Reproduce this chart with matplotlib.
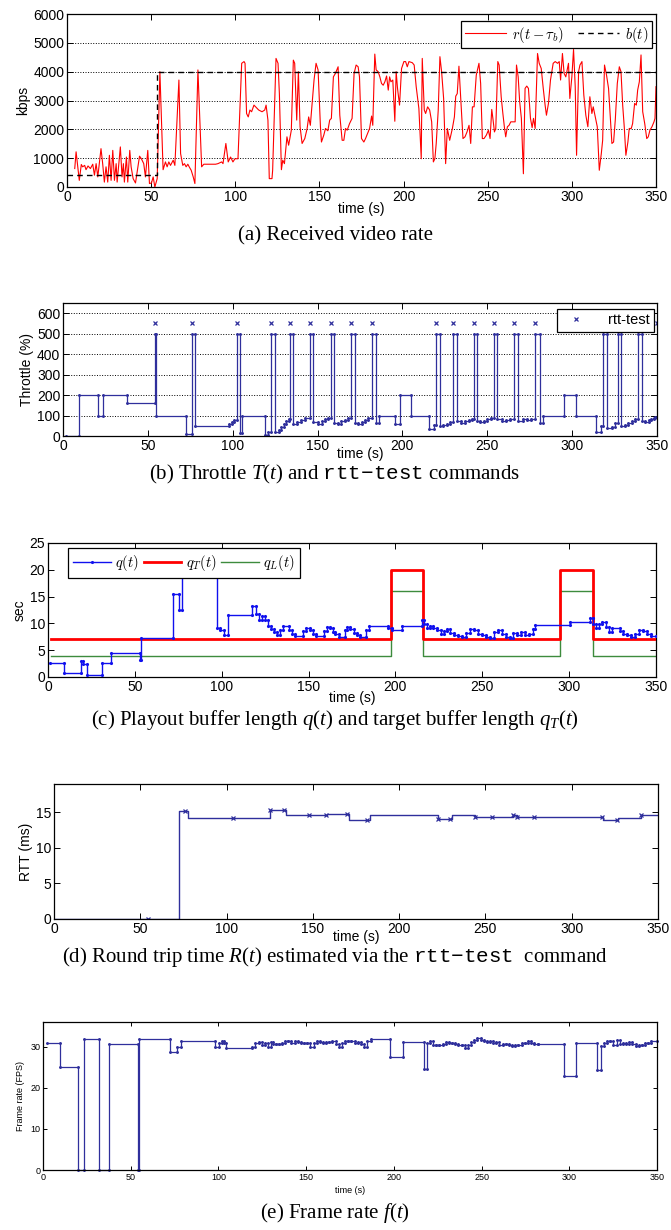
import numpy as np
import matplotlib
matplotlib.use('Agg')
import matplotlib.pyplot as plt
from matplotlib.font_manager import FontProperties

plt.rcParams['font.family'] = 'Liberation Sans'
plt.rcParams['mathtext.fontset'] = 'custom'
plt.rcParams['mathtext.rm'] = 'Liberation Serif'
plt.rcParams['mathtext.it'] = 'Liberation Serif:italic'
plt.rcParams['mathtext.tt'] = 'Liberation Mono'

T_END = 350

# (a) received video rate r(t - tau_b) in kbps
rate_t = [4.6, 5.4, 7.3, 8.5, 9.3, 10.5, 11.3, 12.5, 13.9, 15.3, 16.3, 17.3, 18.3, 20.2, 21.2, 22.2,
          23.2, 24.2, 25.2, 26.2, 27.2, 28.2, 29.2, 29.8, 31.7, 32.7, 33.5, 34.1, 35.3, 36.1, 37.3,
          38.1, 39.3, 40.7, 43.1, 44.2, 45.6, 46.6, 48.0, 49.0, 50.2, 51.2, 52.2, 53.6, 55.2, 57.1,
          58.5, 59.5, 60.5, 61.5, 63.1, 64.1, 66.5, 67.5, 68.8, 69.8, 70.8, 71.8, 72.6, 73.8, 75.0,
          76.0, 77.8, 80.0, 81.3, 84.3, 88.3, 89.7, 91.9, 92.7, 94.4, 95.8, 97.2, 98.6, 99.8, 101.6,
          103.8, 105.2, 105.8, 106.7, 107.7, 108.7, 109.7, 111.1, 113.9, 115.9, 117.5, 118.3, 119.4,
          120.2, 121.8, 122.2, 124.2, 125.4, 126.2, 127.4, 128.2, 129.2, 130.7, 131.7, 133.3, 134.5,
          135.3, 136.5, 137.5, 138.5, 139.7, 141.3, 142.7, 143.6, 144.6, 146.8, 148.0, 149.2, 150.6,
          151.2, 152.6, 153.6, 155.0, 156.1, 157.1, 158.3, 159.5, 161.1, 162.1, 163.5, 164.5, 165.5,
          166.5, 167.9, 169.4, 170.6, 171.8, 173.0, 173.8, 175.0, 176.4, 177.4, 178.6, 179.8, 181.0,
          181.7, 182.9, 183.7, 184.9, 185.9, 186.9, 187.9, 188.9, 189.9, 190.9, 191.7, 192.5, 193.6,
          194.8, 195.6, 196.4, 197.6, 198.8, 200.2, 201.2, 202.2, 203.2, 205.2, 206.3, 207.5, 209.1,
          210.5, 211.1, 212.3, 213.1, 214.3, 215.5, 216.7, 217.7, 218.6, 219.4, 220.6, 221.6, 222.6,
          223.8, 225.0, 226.0, 227.4, 229.0, 230.2, 231.0, 231.9, 232.9, 234.5, 235.3, 236.5, 237.7,
          238.9, 239.9, 240.9, 241.9, 243.2, 244.8, 245.8, 246.8, 247.8, 249.2, 250.4, 251.4, 252.4,
          253.2, 254.0, 254.8, 256.0, 256.8, 258.0, 259.0, 260.0, 260.7, 261.7, 262.7, 263.7, 265.1,
          266.3, 267.1, 268.1, 269.0, 270.0, 271.2, 272.2, 273.2, 274.2, 275.4, 276.4, 277.2, 278.2,
          279.6, 280.6, 281.8, 283.0, 284.1, 284.9, 286.1, 287.3, 288.9, 290.1, 291.5, 292.5, 293.3,
          294.4, 295.4, 296.4, 298.0, 298.8, 300.0, 301.0, 302.0, 302.8, 304.0, 304.8, 306.0, 307.1,
          308.3, 309.5, 310.7, 311.9, 312.7, 313.9, 315.1, 316.3, 317.5, 318.3, 319.4, 320.6, 321.8,
          322.6, 323.8, 324.8, 325.8, 327.0, 328.2, 329.2, 330.2, 331.2, 332.1, 333.3, 334.1, 335.3,
          336.1, 337.3, 338.3, 339.1, 340.1, 341.1, 342.1, 343.3, 344.5, 345.4, 346.4, 347.6, 348.8,
          349.4, 350.0]
rate_v = [640, 1220, 230, 780, 700, 750, 600, 730, 640, 790, 410, 810, 350, 1330, 810, 170,
          700, 170, 1100, 230, 1270, 230, 810, 170, 1390, 350, 810, 170, 1040, 170, 1270,
          700, 290, 140, 1070, 980, 810, 350, 1270, 120, 140, 350, 0, 290, 4000, 600,
          870, 700, 870, 750, 930, 750, 3710, 1160, 750, 810, 700, 790, 700, 580, 350,
          120, 4060, 700, 790, 790, 790, 810, 870, 810, 1510, 870, 1040, 870, 980, 980,
          4290, 4350, 4290, 2550, 2430, 2670, 2610, 2840, 2670, 2610, 2670, 2840, 2320,
          290, 290, 580, 4460, 4290, 3240, 600, 930, 810, 1740, 1450, 1970, 4400,
          4290, 2320, 4000, 2090, 1510, 1680, 2030, 2430, 2140, 3710, 4290, 4060, 2090,
          1560, 1800, 2030, 1950, 2320, 2380, 3820, 3940, 4170, 2490, 1620, 1620, 2030,
          1970, 2200, 2380, 3940, 4230, 4170, 3820, 1680, 1560, 1680, 1850, 2030, 2460,
          2140, 4610, 4060, 4000, 3820, 3590, 3530, 3650, 3850, 3360, 3820, 3650, 3710,
          2280, 4000, 3420, 2840, 4110, 4350, 4350, 4170, 4350, 4310, 4230, 3480, 2720,
          980, 4460, 2670, 2550, 2780, 2670, 2260, 870, 980, 1510, 2670, 4520, 4000,
          3070, 810, 2030, 1620, 2030, 2430, 3150, 3240, 4190, 2550, 1680, 1740, 1910,
          2140, 1510, 2780, 2780, 3880, 4290, 3590, 1680, 1680, 1800, 1970, 1680, 2690,
          2320, 1910, 2030, 4350, 4230, 3130, 2550, 2030, 1740, 2090, 2140, 2260, 2260,
          2260, 4230, 3820, 2950, 2380, 460, 3420, 3500, 3420, 2380, 2060, 2380, 2030,
          4630, 4290, 4110, 3420, 2840, 2490, 2900, 3710, 4290, 4350, 4290, 4350, 3710,
          4630, 3940, 3820, 4290, 3070, 3820, 4770, 3480, 1100, 4000, 4230, 4350, 3190,
          2490, 2090, 3130, 2550, 2780, 2430, 2090, 580, 1160, 1620, 4230, 3880, 3420,
          2670, 1510, 1560, 2320, 3590, 4170, 4000, 2840, 2030, 1100, 1560, 2030, 2030,
          2200, 2900, 2840, 3360, 3650, 4580, 2610, 2200, 1680, 1740, 1970, 2090, 2260,
          2380, 3480]

# b(t): encoding bitrate chosen by the client
bitrate_t = [0, 53.6]
bitrate_v = [400, 4000]

# (b) throttle command T(t) in percent
thr_t = [2, 9.5, 20.5, 23.5, 37.5, 54.5, 54.8, 72.5, 76.2, 78.0,
         97.8, 99.8, 101.0, 102.3, 104.5, 105.2,
         119.0, 121.0, 122.8, 125.0, 127.0, 128.5, 130.0, 131.5, 133.0,
         133.6, 135.6, 138.0, 140.0, 142.5,
         145.5, 147.5, 150.5, 152.5, 154.5, 156.0,
         157.7, 159.7, 162.0, 164.0, 166.0, 168.0,
         169.8, 171.8, 174.0, 176.0, 178.0, 180.0,
         181.8, 184.5, 186.0, 195.4, 198.7, 205.0, 215.8, 218.4,
         220.0, 222.0, 224.0, 226.0, 228.0,
         230.0, 232.0, 234.5, 237.0, 239.5, 241.0,
         242.0, 243.8, 246.0, 248.0, 250.0, 252.0,
         254.0, 256.0, 258.5, 261.0, 263.5,
         266.0, 268.3, 271.0, 273.5, 276.0,
         278.3, 281.0, 282.6, 295.2, 302.0, 314.2, 316.8,
         318.4, 320.5, 323.5, 325.5,
         326.8, 329.0, 331.0, 333.0, 335.0, 337.0,
         338.6, 341.2, 343.0, 345.0, 346.5, 348.0, 349.0]
thr_v = [0, 200, 100, 200, 160, 500, 100, 10, 500, 50,
         60, 70, 80, 500, 15, 100,
         5, 20, 500, 20, 30, 45, 60, 75, 85,
         500, 60, 70, 80, 90,
         500, 70, 60, 75, 85, 90,
         500, 65, 60, 75, 80, 90,
         500, 65, 60, 70, 80, 88,
         500, 65, 100, 60, 200, 100, 35, 55,
         500, 50, 55, 60, 70,
         500, 75, 65, 75, 80, 85,
         500, 75, 70, 75, 85, 90,
         500, 85, 75, 80, 85,
         500, 75, 85, 80, 85,
         500, 65, 100, 200, 100, 20, 50,
         500, 40, 45, 65,
         500, 50, 55, 65, 75, 85,
         500, 75, 70, 80, 85, 90, 95]

# times of the rtt-test commands
rtt_cmd_t = [54.5, 76.2, 102.3, 122.8, 133.6, 145.5, 157.7, 169.8, 181.8, 220.0, 230.0,
             242.0, 254.0, 266.0, 278.3, 318.4, 326.8, 338.6, 350.0]
rtt_cmd_level = 550

# (c) playout buffer q(t), target q_T(t), lower limit q_L(t), seconds
q_t = [1.1, 9.0, 19.2, 20.3, 22.2, 31.2, 36.2, 53.1, 53.8, 71.9, 75.3, 76.9, 97.2, 98.8,
       101.1, 103.5, 117.6, 119.8, 121.6, 123.2, 124.8, 126.6, 128.4, 130.0, 131.6, 133.4,
       135.2, 139.0, 140.6, 142.4, 147.0, 148.8, 150.6, 152.4, 154.2, 158.7, 160.5, 162.3,
       163.9, 165.5, 167.3, 170.7, 172.3, 174.1, 175.9, 177.7, 179.7, 183.1, 184.9, 195.6,
       197.8, 203.9, 215.2, 216.6, 218.2, 219.8, 221.6, 223.8, 226.1, 227.9, 229.7, 231.7,
       234.0, 236.3, 238.5, 240.8, 243.0, 245.3, 247.6, 249.8, 252.1, 254.4, 256.6, 258.9,
       261.1, 263.4, 265.7, 267.9, 270.2, 272.4, 274.7, 277.0, 279.2, 280.4, 300.7, 312.0,
       313.8, 315.4, 317.0, 318.8, 321.1, 322.9, 324.4, 329.0, 331.2, 333.5, 335.7, 338.0,
       340.3, 342.5, 344.8, 347.0]
q_v = [2.6, 0.75, 3.0, 2.5, 0.3, 2.6, 4.5, 3.2, 7.3, 15.5, 12.5, 22.0, 9.2, 8.7,
       7.9, 11.5, 13.2, 11.7, 10.6, 11.3, 10.6, 9.6, 9.0, 8.4, 7.9, 8.8,
       9.6, 8.7, 8.1, 7.6, 8.6, 9.2, 8.7, 8.1, 7.6, 8.6, 9.3, 9.2,
       8.4, 8.0, 7.5, 8.8, 9.3, 9.0, 8.3, 7.8, 7.5, 8.8, 9.6, 9.2,
       8.8, 9.6, 10.7, 9.9, 9.2, 9.6, 9.2, 8.7, 8.1, 8.6, 9.0, 8.2,
       7.8, 7.6, 7.5, 8.2, 9.0, 8.8, 8.1, 7.8, 7.5, 7.3, 8.4, 8.7,
       8.1, 7.5, 7.3, 8.2, 7.9, 8.4, 7.8, 8.1, 9.0, 9.7, 10.2, 11.1,
       9.9, 9.2, 9.9, 10.2, 9.3, 8.4, 9.2, 8.6, 8.0, 7.8, 7.5, 8.1,
       8.7, 8.6, 8.1, 7.6]
qT_t = [2, 197.5, 216, 294.5, 313.5]
qT_v = [7, 20, 7, 20, 7]
qL_t = [2, 197.5, 216, 294.5, 313.5]
qL_v = [4, 16, 4, 16, 4]

# (d) round trip time R(t) in ms
rtt_t = [0, 72.5, 77.5, 125.0, 134.5, 158.0, 171.0, 183.0, 222.3, 230.5, 244.0, 266.0,
         268.4, 318.0, 327.0, 340.0]
rtt_v = [0, 15.2, 14.2, 15.3, 14.6, 14.8, 14.0, 14.6, 14.1, 14.7, 14.4, 14.6,
         14.4, 13.9, 14.2, 14.6]
rtt_meas_t = [54.6, 76.2, 104.0, 125.0, 133.2, 147.9, 157.8, 169.7, 181.6, 222.3, 229.7,
              244.0, 254.0, 266.0, 268.4, 278.0, 317.3, 326.0, 340.0]

# (e) frame rate f(t) in FPS
fps_t = [2.3, 9.5, 20.1, 23.5, 32.0, 37.7, 54.1, 54.6, 72.6, 76.2, 78.5, 98.1, 100.1, 101.9,
         103.1, 104.6, 119.3, 121.1, 122.9, 124.7, 126.3, 128.1, 129.7, 131.3, 133.0, 134.7,
         136.2, 138.0, 139.8, 141.6, 143.4, 145.2, 147.0, 148.8, 150.6, 152.4, 154.3, 156.0,
         157.8, 159.6, 161.4, 163.2, 165.0, 166.8, 168.6, 170.4, 172.2, 174.0, 175.8, 177.6,
         179.4, 181.2, 183.0, 184.8, 186.8, 197.8, 205.2, 216.9, 218.8, 220.6, 222.4, 224.2,
         226.0, 227.8, 229.6, 231.4, 233.2, 235.0, 236.8, 238.6, 240.4, 242.2, 244.0, 245.8,
         247.6, 249.4, 251.2, 253.0, 254.8, 256.6, 258.4, 260.2, 262.0, 263.8, 265.6, 267.4,
         269.2, 271.0, 272.8, 274.6, 276.4, 278.2, 280.0, 281.9, 297.0, 303.8, 315.7, 318.0,
         319.8, 321.6, 323.4, 325.2, 327.0, 328.8, 330.6, 332.4, 334.2, 336.0, 337.8, 339.6,
         341.4, 343.2, 345.0, 346.8]
fps_v = [31.0, 25.0, 0, 31.8, 0, 30.7, 0, 31.8, 28.8, 29.8, 31.3, 30.0, 30.9, 31.5,
         30.9, 29.7, 30.0, 31.0, 31.2, 30.5, 30.9, 30.0, 31.2, 30.6, 30.6, 30.6,
         30.9, 31.3, 31.5, 31.0, 31.5, 31.2, 31.0, 31.0, 30.9, 30.0, 31.0, 31.5,
         31.2, 31.0, 31.2, 31.2, 31.5, 30.7, 30.0, 30.9, 31.5, 31.5, 31.3, 30.9,
         31.2, 30.7, 30.0, 31.5, 31.8, 27.4, 31.1, 24.6, 30.9, 31.5, 30.5, 30.5,
         30.5, 30.7, 31.2, 31.0, 30.9, 30.7, 30.5, 30.4, 29.7, 30.5, 31.2, 31.7,
         32.1, 31.7, 31.3, 31.2, 31.5, 30.9, 31.2, 30.4, 30.7, 30.7, 30.4, 30.2,
         30.5, 30.5, 30.9, 31.0, 31.3, 30.9, 30.7, 30.7, 22.9, 31.0, 24.3, 30.2,
         30.9, 31.3, 31.5, 30.4, 31.7, 30.7, 30.9, 30.7, 31.2, 30.7, 30.2, 30.4,
         30.5, 31.0, 30.9, 31.3]


def stairs(t, v, t_end=T_END):
    tt = np.append(np.asarray(t, float), t_end)
    xs = np.repeat(tt, 2)[1:-1]
    ys = np.repeat(np.asarray(v, float), 2)
    return xs, ys


W, H = 671, 1230
fig = plt.figure(figsize=(W / 100, H / 100), dpi=100)


def panel(x0, x1, ytop, ybot):
    return fig.add_axes([x0 / W, 1 - ybot / H, (x1 - x0) / W, (ybot - ytop) / H])


def style(ax, fs=10):
    ax.tick_params(direction='in', top=True, right=True, labelsize=fs, length=4, width=0.7,
                   pad=2)
    for s in ax.spines.values():
        s.set_linewidth(0.9)
    ax.set_xlim(0, T_END)
    ax.set_xticks(range(0, 351, 50))


def caption(y, s):
    fig.text(335 / W, 1 - y / H, s, ha='center', va='center', fontsize=15,
             family='Liberation Serif', math_fontfamily='custom')


navy = '#2f2f9c'
cm_prop = FontProperties(family='Liberation Sans', size=10.5, math_fontfamily='cm')

# (a)
ax = panel(67, 656, 14, 187)
style(ax)
ax.plot(rate_t, rate_v, color='red', lw=0.8, label=r'$r(t-\tau_b)$')
bx, by = stairs(bitrate_t, bitrate_v)
ax.plot(bx, by, 'k--', lw=1.0, dashes=(4, 3), label=r'$b(t)$')
ax.set_ylim(0, 6000)
ax.set_yticks(range(0, 6001, 1000))
ax.yaxis.grid(True, linestyle=':', color='k', lw=0.7)
ax.set_xlabel('time (s)', fontsize=10, labelpad=-1)
ax.set_ylabel('kbps', fontsize=10, labelpad=2)
leg = ax.legend(loc='upper right', bbox_to_anchor=(0.993, 0.96), borderaxespad=0, ncol=2,
                prop=cm_prop, fancybox=False, edgecolor='k', framealpha=1,
                handlelength=2.8, columnspacing=1.0, borderpad=0.25, handletextpad=0.4)
leg.get_frame().set_linewidth(0.9)
caption(236, '(a) Received video rate')

# (b)
ax = panel(63, 657, 303, 436)
style(ax)
sx, sy = stairs(thr_t, thr_v)
ax.plot(sx, sy, color=navy, lw=0.9, marker='.', ms=2.2)
ax.plot(rtt_cmd_t, [rtt_cmd_level] * len(rtt_cmd_t), 'x', color=navy, ms=3.5, mew=0.9,
        label='rtt-test')
ax.set_ylim(0, 650)
ax.set_yticks(range(0, 601, 100))
ax.yaxis.grid(True, linestyle=':', color='k', lw=0.7)
ax.set_xlabel('time (s)', fontsize=10, labelpad=-4)
ax.set_ylabel('Throttle (%)', fontsize=10, labelpad=2)
leg = ax.legend(loc='upper right', bbox_to_anchor=(0.995, 0.955), borderaxespad=0,
                fontsize=10.5, fancybox=False, edgecolor='k', framealpha=1,
                borderpad=0.3, handletextpad=1.2)
leg.get_frame().set_linewidth(0.9)
caption(474, r'(b) Throttle $T(t)$ and $\mathtt{rtt{-}test}$ commands')

# (c)
ax = panel(48, 656, 543, 677)
style(ax)
lx, ly = stairs(qL_t, qL_v)
ax.plot(lx, ly, color='#3d8b3d', lw=1.0, label=r'$q_L(t)$', zorder=2)
tx, ty = stairs(qT_t, qT_v)
ax.plot(tx, ty, color='red', lw=2.0, label=r'$q_T(t)$', zorder=3)
qx, qy = stairs(q_t, q_v)
ax.plot(qx, qy, color='#1010ee', lw=1.0, marker='.', ms=2.5, label=r'$q(t)$', zorder=4)
ax.set_ylim(0, 25)
ax.set_yticks(range(0, 26, 5))
ax.set_xlabel('time (s)', fontsize=10, labelpad=-2)
ax.set_ylabel('sec', fontsize=10, labelpad=2)
h, l = ax.get_legend_handles_labels()
leg = ax.legend(h[::-1], l[::-1], loc='upper left', bbox_to_anchor=(0.033, 0.963),
                borderaxespad=0, ncol=3, prop=cm_prop, fancybox=False, edgecolor='k',
                framealpha=1, handlelength=2.6, columnspacing=0.3, borderpad=0.35,
                handletextpad=0.3)
leg.get_frame().set_linewidth(0.9)
leg.set_zorder(10)
caption(720, r'(c) Playout buffer length $q(t)$ and target buffer length $q_T(t)$')

# (d)
ax = panel(54, 658, 784, 919)
style(ax)
rx, ry = stairs(rtt_t, rtt_v)
ax.plot(rx, ry, color=navy, lw=1.0)
idx = np.searchsorted(rtt_t, rtt_meas_t, side='right') - 1
ax.plot(rtt_meas_t, np.asarray(rtt_v)[idx], 'x', color=navy, ms=3.5, mew=0.9)
ax.set_ylim(0, 19)
ax.set_yticks([0, 5, 10, 15])
ax.set_xlabel('time (s)', fontsize=10, labelpad=-4)
ax.set_ylabel('RTT (ms)', fontsize=10, labelpad=2)
caption(957, r'(d) Round trip time $R(t)$ estimated via the $\mathtt{rtt{-}test}$  command')

# (e)
ax = panel(43, 657, 1022, 1170)
style(ax, fs=6.5)
ax.tick_params(length=3)
fx, fy = stairs(fps_t, fps_v)
ax.plot(fx, fy, color=navy, lw=0.9, marker='.', ms=2.2, clip_on=False)
ax.set_ylim(0, 36)
ax.set_yticks([0, 10, 20, 30])
ax.set_xlabel('time (s)', fontsize=6.5, labelpad=3)
ax.set_ylabel('Frame rate (FPS)', fontsize=6.5, labelpad=4)
caption(1213, r'(e) Frame rate $f(t)$')

fig.savefig('out.png', dpi=100)
